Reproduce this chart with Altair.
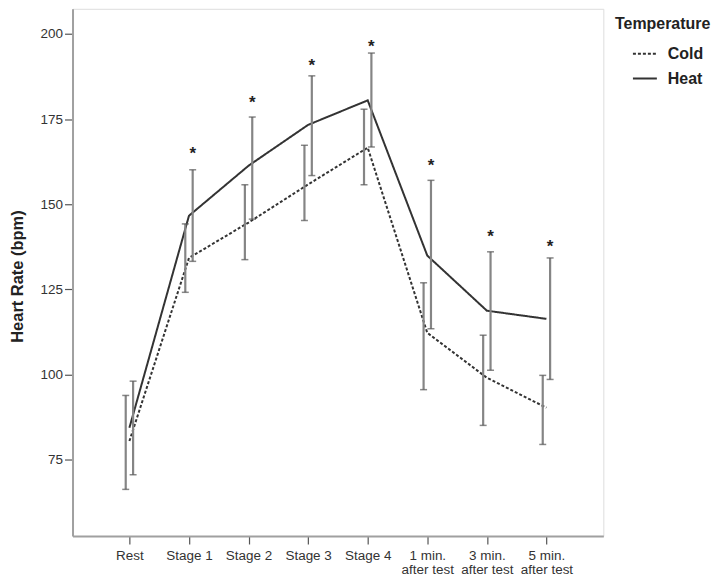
import altair as alt
import pandas as pd

categories = ["Rest", "Stage 1", "Stage 2", "Stage 3", "Stage 4",
              "1 min. after test", "3 min. after test", "5 min. after test"]
temperatures = ["Cold", "Heat"]

cold_mean = [80.4, 134.2, 144.6, 155.8, 166.6, 112.2, 99.0, 90.2]
cold_lo = [66.2, 124.1, 133.7, 145.2, 155.7, 95.5, 85.0, 79.4]
cold_hi = [93.8, 144.2, 155.7, 167.3, 177.9, 126.9, 111.5, 99.7]

heat_mean = [84.3, 146.6, 161.3, 173.3, 180.5, 134.9, 118.7, 116.3]
heat_lo = [70.5, 133.2, 145.6, 158.4, 166.8, 113.4, 101.2, 98.5]
heat_hi = [98.0, 160.1, 175.6, 187.7, 194.4, 157.0, 136.0, 134.2]

# position of the significance asterisks (bpm), None = no asterisk
sig_y = [None, 165.8, 181.0, 191.9, 197.3, 162.5, 141.5, 138.6]

y_ticks = [75, 100, 125, 150, 175, 200]

rows = []
for i, c in enumerate(categories):
    rows.append(dict(stage=c, temp="Cold", mean=cold_mean[i], lo=cold_lo[i], hi=cold_hi[i]))
    rows.append(dict(stage=c, temp="Heat", mean=heat_mean[i], lo=heat_lo[i], hi=heat_hi[i]))
df = pd.DataFrame(rows)

sig = pd.DataFrame({
    "stage": [c for c, s in zip(categories, sig_y) if s is not None],
    "y": [s for s in sig_y if s is not None],
})
sig["mark"] = "*"

FONT = "Liberation Sans"
DARK = "#333333"

x_enc = alt.X(
    "stage:N", sort=categories,
    scale=alt.Scale(type="point", padding=0.955),
    axis=alt.Axis(
        title=None, labelAngle=0, labelFont=FONT, labelFontSize=13.5,
        labelColor="#333333", labelLineHeight=14, labelPadding=5,
        labelBaseline="top",
        labelExpr="indexof(datum.label, ' after') > 0 ? [substring(datum.label, 0, indexof(datum.label, ' after')), 'after test'] : datum.label",
        domainColor="#a0a0a0", domainWidth=2, tickColor="#555555",
        tickWidth=1.2, tickSize=8,
    ),
)

y_scale = alt.Scale(domain=[52.5, 207.4], nice=False, zero=False)
y_axis = alt.Axis(
    title="Heart Rate (bpm)", values=y_ticks, grid=False,
    labelFont=FONT, labelFontSize=13.5, labelColor="#333333", labelPadding=2,
    titleFont=FONT, titleFontSize=16.5, titleFontWeight="bold", titleColor="#222222",
    titleX=-55, titleY=268, titleBaseline="middle",
    domainColor="#a0a0a0", domainWidth=2, tickColor="#555555",
    tickWidth=1.2, tickSize=8,
)

base = alt.Chart(df)

lines = base.mark_line(color=DARK, strokeWidth=2).encode(
    x=x_enc,
    y=alt.Y("mean:Q", scale=y_scale, axis=y_axis),
    strokeDash=alt.StrokeDash(
        "temp:N",
        scale=alt.Scale(domain=temperatures, range=[[3, 2], [1, 0]]),
        legend=alt.Legend(
            title="Temperature", orient="none", legendX=544, legendY=7,
            titleFont=FONT, titleFontSize=16, titleFontWeight="bold",
            titleColor="#222222", titleBaseline="top", titlePadding=9,
            labelFont=FONT, labelFontSize=16, labelFontWeight="bold",
            labelColor="#222222",
            symbolType="stroke", symbolSize=576, symbolStrokeWidth=2,
            symbolStrokeColor=DARK, symbolOffset=17, labelOffset=10,
            padding=0, rowPadding=4,
        ),
    ),
)

offsets = {"Cold": -3.7, "Heat": 3.7}
layers = [lines]
for t in temperatures:
    dx = offsets[t]
    sub = base.transform_filter(alt.datum.temp == t)
    layers.append(
        sub.mark_rule(color="#858585", strokeWidth=2.2, xOffset=dx).encode(
            x=x_enc,
            y=alt.Y("lo:Q", scale=y_scale, axis=y_axis),
            y2="hi:Q",
        )
    )
    layers.append(
        sub.transform_fold(["lo", "hi"], as_=["end", "val"])
        .mark_tick(orient="horizontal", color="#555555", size=7, thickness=1.5, xOffset=dx)
        .encode(x=x_enc, y=alt.Y("val:Q", scale=y_scale, axis=y_axis))
    )

stars = alt.Chart(sig).mark_text(
    font=FONT, fontSize=17, fontWeight="bold", color="#222222",
    baseline="middle", dy=4, xOffset=offsets["Heat"],
).encode(
    x=x_enc,
    y=alt.Y("y:Q", scale=y_scale, axis=y_axis),
    text="mark:N",
)
layers.append(stars)

chart = alt.layer(*layers).properties(
    width=532.3, height=528.7,
    padding={"left": 64.7, "top": 0, "right": 113, "bottom": 42},
    autosize=alt.AutoSizeParams(type="none"),
).configure_view(stroke=None).configure(background="white")

chart.save("out.html", embed_options={"renderer": "svg", "actions": False})
